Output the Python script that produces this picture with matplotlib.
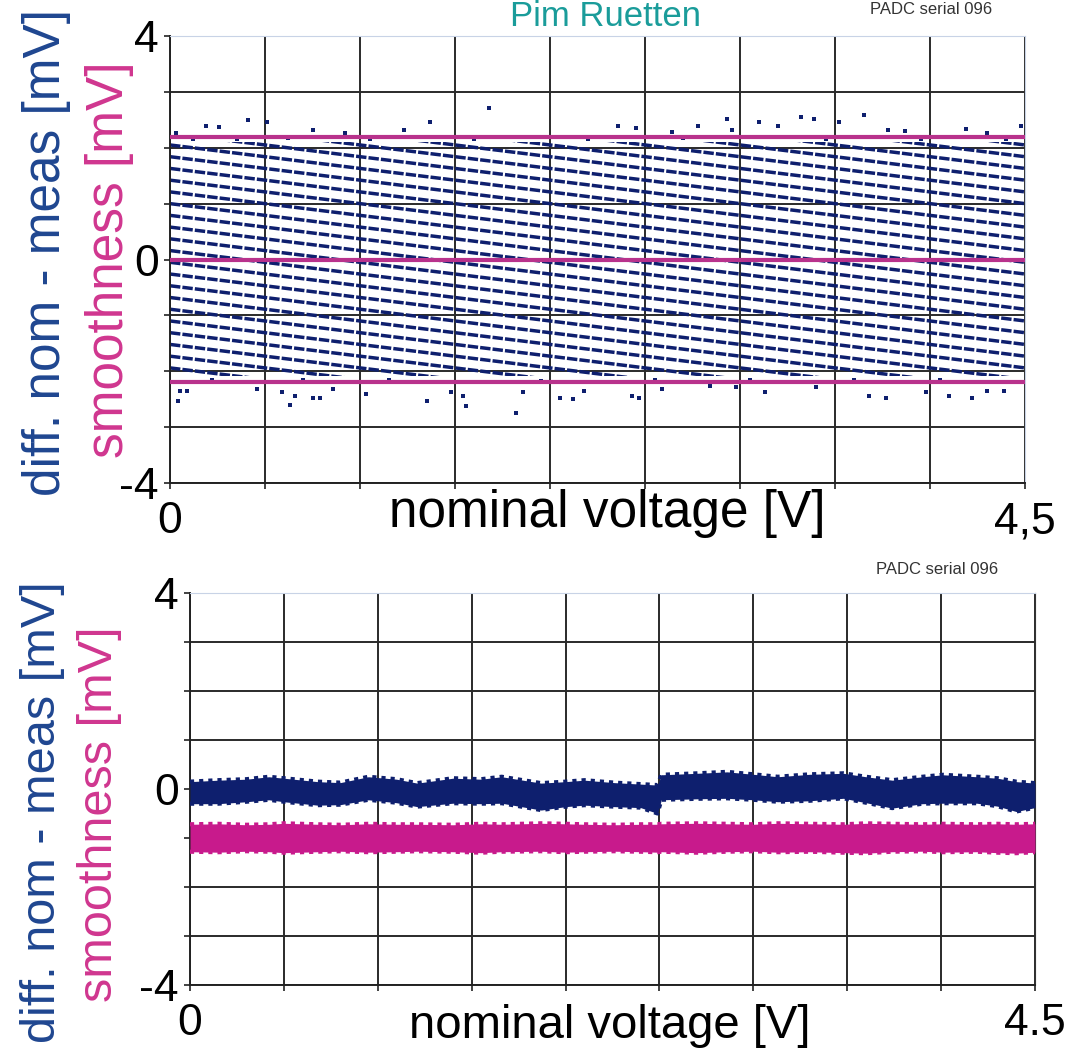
import matplotlib
matplotlib.use('Agg')
import matplotlib.pyplot as plt
from matplotlib.patches import Rectangle

plt.rcParams['font.family'] = ['Liberation Sans', 'DejaVu Sans']

# ---- top panel: quantisation stripes (value of each stripe at 0 V and at 4.5 V, mV)
stripe_at_0v = [3.94, 3.73, 3.52, 3.31, 3.10, 2.89, 2.68, 2.47, 2.26,
                2.05, 1.84, 1.63, 1.42, 1.21, 1.00, 0.79, 0.58, 0.37, 0.16,
                -0.05, -0.26, -0.47, -0.68, -0.89, -1.10, -1.31, -1.52, -1.73, -1.94]
stripe_at_4v5 = [2.05, 1.84, 1.63, 1.42, 1.21, 1.00, 0.79, 0.58, 0.37,
                 0.16, -0.05, -0.26, -0.47, -0.68, -0.89, -1.10, -1.31, -1.52, -1.73,
                 -1.94, -2.15, -2.36, -2.57, -2.78, -2.99, -3.20, -3.41, -3.62, -3.83]
stripe_band = [-2.08, 2.10]

# stray points outside the stripe band (V, mV)
stray_v = [0.03, 0.19, 0.26, 0.41, 0.51, 0.75, 0.92, 1.23, 1.37, 1.68,
           2.36, 2.45, 2.64, 2.78, 2.93, 2.96, 3.10, 3.20, 3.32, 3.39,
           3.52, 3.65, 3.78, 3.87, 4.19, 4.30, 4.48,
           0.05, 0.04, 0.09, 0.46, 0.59, 0.63, 0.66, 0.75, 0.79, 0.86,
           1.03, 1.35, 1.48, 1.56, 1.54, 1.82, 1.86,
           2.05, 2.12, 2.18, 2.43, 2.47, 2.59, 2.84, 2.98, 3.13, 3.40,
           3.68, 3.77, 3.98, 4.10, 4.22, 4.30, 4.39,
           0.12, 0.35, 0.62, 1.05, 1.60, 2.20, 2.70, 3.45, 3.95, 4.40,
           0.22, 0.70, 1.15, 1.95, 2.55, 3.05, 3.60, 4.05]
stray_mv = [2.27, 2.39, 2.37, 2.50, 2.46, 2.32, 2.27, 2.32, 2.46, 2.72,
            2.39, 2.35, 2.28, 2.39, 2.52, 2.32, 2.46, 2.39, 2.55, 2.52,
            2.46, 2.59, 2.32, 2.30, 2.33, 2.27, 2.39,
            -2.35, -2.53, -2.35, -2.32, -2.38, -2.60, -2.44, -2.47, -2.47, -2.32,
            -2.41, -2.53, -2.38, -2.63, -2.44, -2.75, -2.38,
            -2.47, -2.50, -2.35, -2.44, -2.47, -2.32, -2.26, -2.28, -2.38, -2.28,
            -2.44, -2.47, -2.38, -2.44, -2.47, -2.35, -2.35,
            2.16, 2.15, 2.17, 2.15, 2.16, 2.15, 2.17, 2.16, 2.15, 2.16,
            -2.15, -2.16, -2.15, -2.17, -2.15, -2.16, -2.15, -2.16]

smooth_levels = [2.2, 0.0, -2.2]

# ---- bottom panel: envelopes of the noise bands (mV)
band_v = [0.0, 0.15, 0.3, 0.42, 0.5, 0.68, 0.8, 0.95, 1.1, 1.21, 1.4, 1.55,
          1.66, 1.87, 2.0, 2.1, 2.26, 2.4, 2.49, 2.51, 2.7, 2.86, 3.0, 3.13,
          3.3, 3.48, 3.6, 3.74, 3.9, 4.01, 4.19, 4.3, 4.4, 4.5]
diff_hi = [0.15, 0.18, 0.20, 0.25, 0.22, 0.15, 0.13, 0.25, 0.20, 0.12, 0.22, 0.20,
           0.25, 0.12, 0.15, 0.18, 0.13, 0.10, 0.08, 0.29, 0.32, 0.35, 0.30, 0.25,
           0.30, 0.32, 0.25, 0.18, 0.25, 0.29, 0.25, 0.22, 0.15, 0.12]
diff_lo = [-0.30, -0.30, -0.26, -0.22, -0.26, -0.33, -0.32, -0.22, -0.28, -0.36, -0.29, -0.30,
           -0.29, -0.43, -0.36, -0.33, -0.36, -0.38, -0.50, -0.22, -0.20, -0.19, -0.22, -0.26,
           -0.24, -0.19, -0.28, -0.39, -0.30, -0.29, -0.29, -0.35, -0.46, -0.38]
smooth_hi = [-0.72, -0.71, -0.73, -0.72, -0.70, -0.72, -0.73, -0.71, -0.72, -0.72, -0.73, -0.71,
             -0.72, -0.70, -0.71, -0.72, -0.73, -0.72, -0.72, -0.71, -0.70, -0.71, -0.72, -0.70,
             -0.71, -0.72, -0.70, -0.71, -0.72, -0.71, -0.72, -0.71, -0.72, -0.71]
smooth_lo = [-1.28, -1.29, -1.27, -1.28, -1.30, -1.28, -1.27, -1.29, -1.28, -1.27, -1.28, -1.30,
             -1.28, -1.27, -1.29, -1.28, -1.27, -1.28, -1.29, -1.28, -1.30, -1.28, -1.27, -1.29,
             -1.28, -1.30, -1.31, -1.28, -1.27, -1.29, -1.28, -1.30, -1.31, -1.29]

x_grid = [0, 0.5, 1, 1.5, 2, 2.5, 3, 3.5, 4, 4.5]
y_grid = [-4, -3, -2, -1, 0, 1, 2, 3, 4]

BLUE = '#0e1f6e'
MAGENTA = '#c81a8c'
LINE_MAG = '#b8328c'
LABEL_BLUE = '#1f4690'
LABEL_MAG = '#d0368f'

W, H = 1077, 1051
fig = plt.figure(figsize=(W / 100, H / 100), dpi=100)


def style_axes(ax, xlast, right_dark):
    ax.set_xlim(0, 4.5)
    ax.set_ylim(-4, 4)
    ax.set_xticks(x_grid)
    ax.set_xticklabels(['0'] + [''] * 8 + [xlast])
    ax.set_yticks(y_grid)
    ax.set_yticklabels(['-4', '', '', '', '0', '', '', '', '4'])
    ax.grid(True, color='#2a2a2a', linewidth=1.4, zorder=0)
    ax.set_axisbelow(True)
    ax.tick_params(axis='both', direction='out', length=4, width=1.2, colors='#222222')
    ax.tick_params(axis='x', labelsize=32, pad=9, labelcolor='black')
    ax.tick_params(axis='y', labelsize=32, pad=4, labelcolor='black')
    for s in ['left', 'bottom']:
        ax.spines[s].set_color('#222222')
        ax.spines[s].set_linewidth(1.4)
    ax.spines['top'].set_color('#c8d3e6')
    ax.spines['right'].set_color('#333333' if right_dark else '#c8d3e6')


# ---------------- top panel
ax1 = fig.add_axes([170 / W, 1 - 483 / H, 855 / W, 447 / H])
style_axes(ax1, '4,5', False)
clip = Rectangle((0, stripe_band[0]), 4.5, stripe_band[1] - stripe_band[0],
                 transform=ax1.transData, fill=False, visible=False)
ax1.add_patch(clip)
for y0, y1 in zip(stripe_at_0v, stripe_at_4v5):
    ln, = ax1.plot([0, 4.5], [y0, y1], color=BLUE, linewidth=2.5,
                   dashes=(3, 0.6), zorder=2)
    ln.set_clip_path(clip)
ax1.scatter(stray_v, stray_mv, marker='s', s=6, color=BLUE, linewidths=0, zorder=3)
for lvl in smooth_levels:
    ax1.axhline(lvl, color=LINE_MAG, linewidth=3, zorder=4)

# ---------------- bottom panel
ax2 = fig.add_axes([190 / W, 1 - 985 / H, 845 / W, 392 / H])
style_axes(ax2, '4.5', True)
ax2.fill_between(band_v, diff_lo, diff_hi, color=BLUE, linewidth=0, zorder=3)
ax2.plot(band_v, diff_hi, color=BLUE, linewidth=3, linestyle=(0, (1, 1.2)), zorder=3)
ax2.plot(band_v, diff_lo, color=BLUE, linewidth=3, linestyle=(0, (1, 1.2)), zorder=3)
ax2.fill_between(band_v, smooth_lo, smooth_hi, color=MAGENTA, linewidth=0, zorder=3)
ax2.plot(band_v, smooth_hi, color=MAGENTA, linewidth=3, linestyle=(0, (1, 1.2)), zorder=3)
ax2.plot(band_v, smooth_lo, color=MAGENTA, linewidth=3, linestyle=(0, (1, 1.2)), zorder=3)

# ---------------- texts
fig.text(607 / W, 1 - 527 / H, 'nominal voltage [V]', fontsize=37, ha='center', va='baseline')
fig.text(610 / W, 1 - 1038 / H, 'nominal voltage [V]', fontsize=34, ha='center', va='baseline')

fig.text(47 / W, 1 - 253 / H, 'diff. nom - meas [mV]', fontsize=37, color=LABEL_BLUE,
         rotation=90, ha='center', va='center')
fig.text(110 / W, 1 - 260 / H, 'smoothness [mV]', fontsize=37, color=LABEL_MAG,
         rotation=90, ha='center', va='center')
fig.text(43 / W, 1 - 812 / H, 'diff. nom - meas [mV]', fontsize=35, color=LABEL_BLUE,
         rotation=90, ha='center', va='center')
fig.text(100 / W, 1 - 814 / H, 'smoothness [mV]', fontsize=35, color=LABEL_MAG,
         rotation=90, ha='center', va='center')

fig.text(605 / W, 1 - 26 / H, 'Pim Ruetten', fontsize=25, color='#1a9c9a',
         ha='center', va='baseline')
fig.text(870 / W, 1 - 14 / H, 'PADC serial 096', fontsize=12, color='#333333', va='baseline')
fig.text(876 / W, 1 - 574 / H, 'PADC serial 096', fontsize=12, color='#333333', va='baseline')

fig.savefig('out.png', dpi=100)
